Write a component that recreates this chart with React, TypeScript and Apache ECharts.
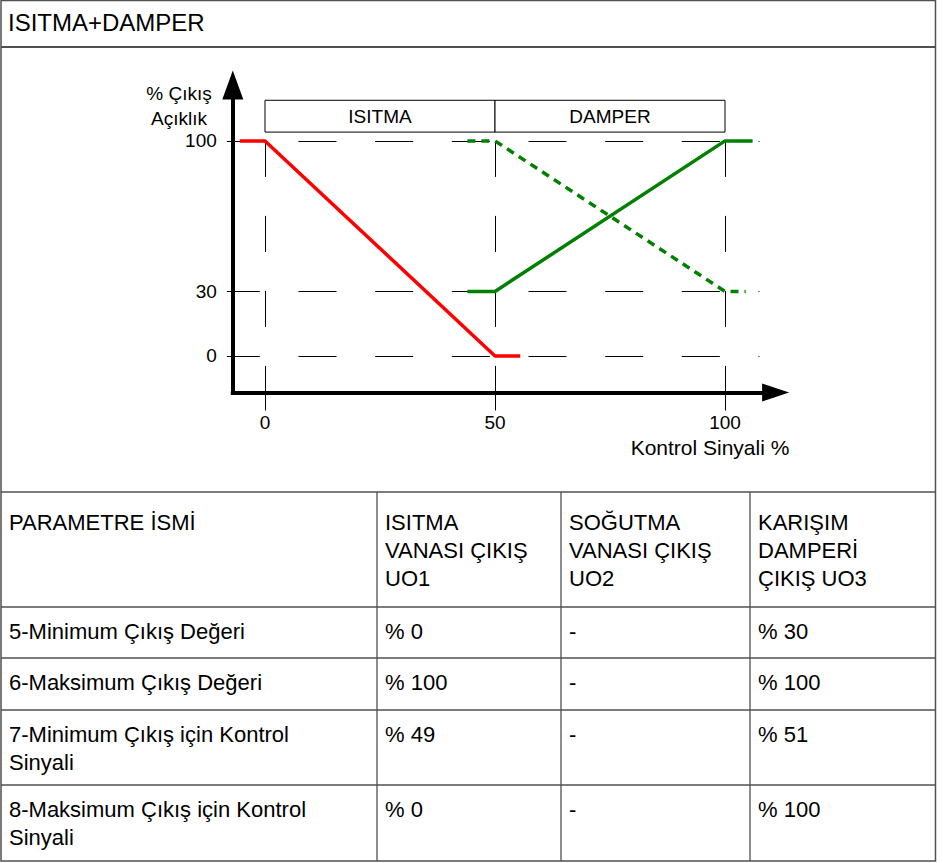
import React, { useEffect, useRef } from "react";
import * as echarts from "echarts";

// ---------- data ----------
const xTicks = [0, 50, 100];
const yTicks = [0, 30, 100];
const bandEdges = [0, 50, 100];
const bandLabels = ["ISITMA", "DAMPER"];

const heatingCurve = [[-5.5, 100], [0, 100], [50, 0], [55.5, 0]];
const damperCurve = [[44, 30], [50, 30], [100, 100], [106, 100]];
const damperInverse = [[44, 100], [50, 100], [100, 30], [104.5, 30]];

const titleText = "ISITMA+DAMPER";
const yAxisTitle = "% Çıkış\nAçıklık";
const xAxisTitle = "Kontrol Sinyali %";

const headers = ["PARAMETRE İSMİ", "ISITMA\nVANASI ÇIKIŞ\nUO1", "SOĞUTMA\nVANASI ÇIKIŞ\nUO2", "KARIŞIM\nDAMPERİ\nÇIKIŞ UO3"];
const paramNames = ["5-Minimum Çıkış Değeri", "6-Maksimum Çıkış Değeri", "7-Minimum Çıkış için Kontrol\nSinyali", "8-Maksimum Çıkış için Kontrol\nSinyali"];
const heatingValues = ["% 0", "% 100", "% 49", "% 0"];
const coolingValues = ["-", "-", "-", "-"];
const damperValues = ["% 30", "% 100", "% 51", "% 100"];

// ---------- layout ----------
const W = 943;
const H = 863;
const FONT = "'Liberation Sans', Arial, sans-serif";
const XMIN = -7, XMAX = 111, YMIN = -17, YMAX = 126;
const colX = [1, 377, 561, 750, 935.5];
const titleLineY = 47;
const chartBottomY = 492;
const rowTops = [607, 658, 710, 785];
const bottomY = 861;
const LINE = "#505050";

function buildGraphic() {
  const g: any[] = [];
  g.push({ type: "rect", shape: { x: colX[0], y: 0.5, width: colX[4] - colX[0], height: bottomY - 0.5 }, style: { fill: "none", stroke: LINE, lineWidth: 1.5 } });
  g.push({ type: "line", shape: { x1: colX[0], y1: titleLineY, x2: colX[4], y2: titleLineY }, style: { stroke: LINE, lineWidth: 2 } });
  [chartBottomY, ...rowTops].forEach((y) => {
    g.push({ type: "line", shape: { x1: colX[0], y1: y, x2: colX[4], y2: y }, style: { stroke: LINE, lineWidth: 1.3 } });
  });
  [colX[1], colX[2], colX[3]].forEach((x) => {
    g.push({ type: "line", shape: { x1: x, y1: chartBottomY, x2: x, y2: bottomY }, style: { stroke: LINE, lineWidth: 1.3 } });
  });
  const txt = (x: number, y: number, text: string, size = 22, align = "left", lh = 28) => ({
    type: "text",
    x,
    y,
    style: { text, fill: "#000", font: `${size}px ${FONT}`, textAlign: align, textVerticalAlign: "top", lineHeight: lh },
  });
  g.push(txt(8, 8, titleText, 24));
  // chart titles
  g.push(txt(179, 81, yAxisTitle, 19, "center", 25));
  g.push(txt(710, 433, xAxisTitle, 21, "center"));
  // table header
  headers.forEach((h, i) => g.push(txt(colX[i] + 8, chartBottomY + 16, h)));
  const rowsData = [paramNames, heatingValues, coolingValues, damperValues];
  rowTops.forEach((top, r) => {
    rowsData.forEach((col, c) => g.push(txt(colX[c] + 8, top + 10, col[r])));
  });
  return g;
}

const dashedH = { color: "#000", width: 1, type: [38, 38.67], dashOffset: 11 };
const dashedV = { color: "#000", width: 1, type: [36, 39] };

const option: any = {
  animation: false,
  backgroundColor: "#fff",
  textStyle: { fontFamily: FONT },
  grid: { left: 232.8, right: W - 775.6, top: 85, bottom: H - 392.5, containLabel: false },
  xAxis: {
    type: "value",
    min: XMIN,
    max: XMAX,
    axisLine: { show: true, onZero: false, symbol: ["none", "triangle"], symbolSize: [18, 27], lineStyle: { color: "#000", width: 4, cap: "square" } },
    axisTick: { show: true, customValues: xTicks, length: 18, lineStyle: { color: "#000", width: 1 } },
    axisLabel: { customValues: xTicks, color: "#000", fontSize: 19, margin: 20, fontFamily: FONT },
    splitLine: { show: false },
  },
  yAxis: {
    type: "value",
    min: YMIN,
    max: YMAX,
    axisLine: { show: true, onZero: false, symbol: ["none", "triangle"], symbolSize: [21, 29], lineStyle: { color: "#000", width: 4, cap: "square" } },
    axisTick: { show: true, customValues: yTicks, length: 6, lineStyle: { color: "#000", width: 1 } },
    axisLabel: { customValues: yTicks, color: "#000", fontSize: 19, margin: 16, fontFamily: FONT },
    splitLine: { show: false },
  },
  graphic: buildGraphic(),
  series: [
    {
      type: "line",
      data: heatingCurve,
      showSymbol: false,
      lineStyle: { color: "#ff0000", width: 3.5 },
      z: 5,
      markLine: {
        silent: true,
        symbol: ["none", "none"],
        label: { show: false },
        data: [
          ...yTicks.map((v) => [{ coord: [XMIN, v], lineStyle: dashedH }, { coord: [107.5, v] }]),
          ...xTicks.map((v) => [{ coord: [v, 100], lineStyle: dashedV }, { coord: [v, YMIN] }]),
        ],
      },
    },
    {
      type: "line",
      data: damperCurve,
      showSymbol: false,
      lineStyle: { color: "#008000", width: 3.5 },
      z: 5,
      markArea: {
        silent: true,
        itemStyle: { color: "#fff", borderColor: "#000", borderWidth: 1 },
        label: { show: true, position: "inside", color: "#000", fontSize: 19, fontFamily: FONT },
        data: bandLabels.map((name, i) => [
          { name, xAxis: bandEdges[i], yAxis: 104.1 },
          { xAxis: bandEdges[i + 1], yAxis: 118.9 },
        ]),
      },
    },
    {
      type: "line",
      data: damperInverse,
      showSymbol: false,
      lineStyle: { color: "#008000", width: 3.5, type: [8, 6] },
      z: 5,
    },
  ],
};

export default function App() {
  const ref = useRef<HTMLDivElement>(null);
  useEffect(() => {
    const chart = echarts.init(ref.current!, null, { renderer: "svg", width: W, height: H });
    chart.setOption(option);
    return () => chart.dispose();
  }, []);
  return <div ref={ref} style={{ position: "absolute", left: 0, top: 0, width: W, height: H, background: "#fff" }} />;
}
